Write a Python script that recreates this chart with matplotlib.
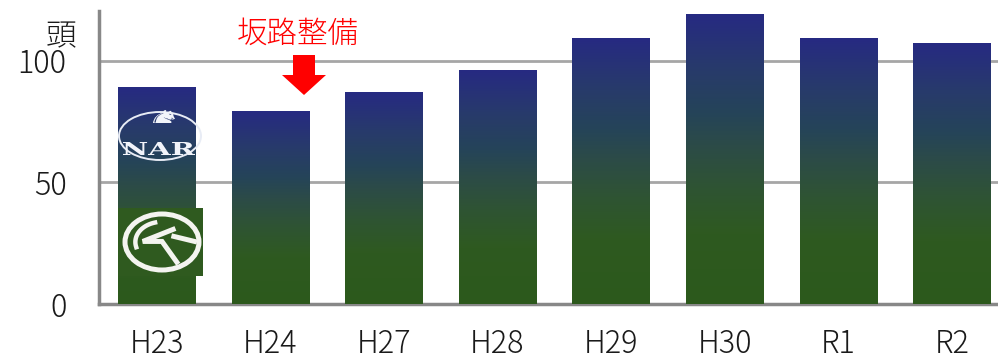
import numpy as np
import matplotlib
matplotlib.use("Agg")
import matplotlib.pyplot as plt
from matplotlib.colors import LinearSegmentedColormap
from matplotlib.patches import Rectangle, Ellipse, Polygon, PathPatch
from matplotlib.textpath import TextPath
from matplotlib.font_manager import FontProperties
from matplotlib.transforms import Affine2D

plt.rcParams['font.family'] = ['Noto Sans CJK JP', 'DejaVu Sans']
plt.rcParams['font.weight'] = 'light'

# Horse counts per year
years = ["H23", "H24", "H27", "H28", "H29", "H30", "R1", "R2"]
counts = [89, 79, 87, 96, 109, 119, 109, 107]
y_ticks = [0, 50, 100]
unit_label = "頭"
note_text = "坂路整備"

W, H = 998, 355
fig = plt.figure(figsize=(W / 100, H / 100), dpi=100)
# pixel transform with origin at the top-left corner
pix = Affine2D().scale(1 / W, -1 / H).translate(0, 1) + fig.transFigure

ax = fig.add_axes([98.5 / W, (H - 304.3) / H, 1 - 98.5 / W, (304.3 - 11) / H])

grad = LinearSegmentedColormap.from_list("bar_grad", [
    (0.00, "#2C591C"),
    (0.24, "#2E5A20"),
    (0.40, "#2F5433"),
    (0.55, "#2C4B48"),
    (0.66, "#254459"),
    (0.82, "#283A6C"),
    (1.00, "#262A82"),
])
col = np.linspace(0, 1, 256).reshape(-1, 1)

width = 0.68
x = np.arange(len(years))
bars = ax.bar(x, counts, width=width, color="none", zorder=3)
for b in bars:
    x0, y0 = b.get_x(), b.get_y()
    ax.imshow(col, cmap=grad, origin="lower", aspect="auto",
              extent=(x0, x0 + b.get_width(), y0, y0 + b.get_height()),
              zorder=3, interpolation="bilinear")
ax.set_xlim(-0.512, 7.406)
ax.set_ylim(0, 120.4)

ax.set_yticks(y_ticks)
ax.set_xticks(x)
ax.set_xticklabels(years)
ax.tick_params(axis="both", length=0, labelsize=22, colors="#1a1a1a")
ax.tick_params(axis="y", pad=23)
ax.tick_params(axis="x", pad=17)
for lbl in ax.get_xticklabels() + ax.get_yticklabels():
    lbl.set_fontweight("light")
ax.yaxis.grid(True, color="#A6A6A6", linewidth=2.0, zorder=0)
ax.set_axisbelow(True)
for side in ("top", "right"):
    ax.spines[side].set_visible(False)
for side in ("left", "bottom"):
    ax.spines[side].set_color("#888888")
    ax.spines[side].set_linewidth(2.5)

# unit label
fig.text(60.5, 36, unit_label, transform=pix, fontsize=22, ha="center",
         va="center", color="#1a1a1a", fontweight="light")

# annotation over the marked year
fig.text(298, 34, note_text, transform=pix, fontsize=22, ha="center",
         va="center", color="#FF0000", fontweight="light")
arrow = Polygon([(293, 55), (315, 55), (315, 75), (326, 75), (304, 95),
                 (282, 75), (293, 75)], closed=True, facecolor="#FF0000",
                edgecolor="none", transform=pix)
fig.add_artist(arrow)

# NAR emblem on the first bar
fig.add_artist(Ellipse((160, 136), 82, 48, transform=pix, fill=False,
                       edgecolor="#E8ECF5", linewidth=1.4, zorder=5))
serif = FontProperties(family="DejaVu Serif", weight="bold")
tp = TextPath((0, 0), "NAR", prop=serif, size=10)
bb = tp.get_extents()
sx = (195 - 123) / bb.width
sy = (155 - 142) / bb.height
nar_tf = (Affine2D().translate(-bb.x0, -bb.y0).scale(sx, -sy)
          .translate(123, 155) + pix)
fig.add_artist(PathPatch(tp, facecolor="#F2F4FA", edgecolor="none",
                         transform=nar_tf, zorder=6))
hp = TextPath((0, 0), "\u265e",
              prop=FontProperties(family="DejaVu Sans", weight="normal"),
              size=10)
hb = hp.get_extents()
h_tf = (Affine2D().translate(-hb.x0, -hb.y0)
        .scale(-22 / hb.width, -13 / hb.height).translate(175, 123) + pix)
fig.add_artist(PathPatch(hp, facecolor="#F2F4FA", edgecolor="none",
                         transform=h_tf, zorder=6))

# JRA emblem on the first bar
fig.add_artist(Rectangle((118, 208), 85, 68, transform=pix,
                         facecolor="#2F5A1F", edgecolor="none", zorder=5))
cx, cy, rx, ry = 162, 242, 37, 28
fig.add_artist(Ellipse((cx, cy), 2 * rx, 2 * ry, transform=pix, fill=False,
                       edgecolor="#F4F4F0", linewidth=3.6, zorder=6))


def emb(pts):
    return [(cx + px * rx, cy - py * ry) for px, py in pts]


for pts in ([(0.30, 0.45), (-0.52, 0.02), (0.0, 0.02), (0.40, -0.72)],
            [(0.32, 0.20), (0.88, 0.02)]):
    xy = np.array(emb(pts))
    fig.add_artist(plt.Line2D(xy[:, 0], xy[:, 1], transform=pix,
                              color="#F4F4F0", linewidth=3.6,
                              solid_joinstyle="miter", zorder=7))
arc_t = np.linspace(np.deg2rad(105), np.deg2rad(195), 30)
ax_pts = np.array(emb([(0.72 * np.cos(t), 0.72 * np.sin(t)) for t in arc_t]))
fig.add_artist(plt.Line2D(ax_pts[:, 0], ax_pts[:, 1], transform=pix,
                          color="#F4F4F0", linewidth=3.2, zorder=7))

fig.savefig("out.png", dpi=100)
